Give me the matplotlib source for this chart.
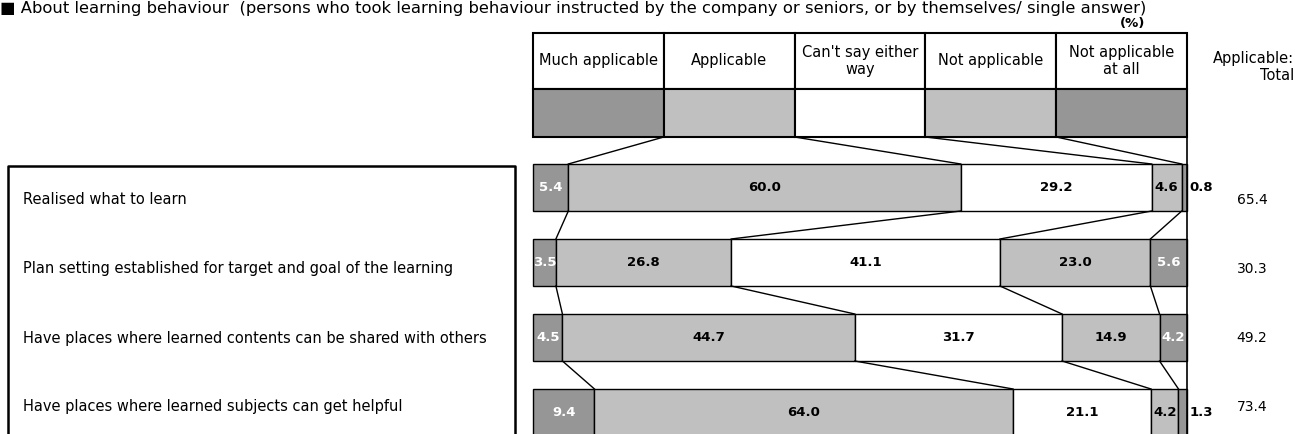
import numpy as np
import matplotlib
matplotlib.use('Agg')
import matplotlib.pyplot as plt
from matplotlib.patches import Rectangle

plt.rcParams['font.family'] = ['DejaVu Sans']

# data (%)
items = ['Realised what to learn',
         'Plan setting established for target and goal of the learning',
         'Have places where learned contents can be shared with others',
         'Have places where learned subjects can get helpful']
categories = ['Much applicable', 'Applicable', "Can't say either\nway",
              'Not applicable', 'Not applicable\nat all']
much_applicable = [5.4, 3.5, 4.5, 9.4]
applicable = [60.0, 26.8, 44.7, 64.0]
cant_say = [29.2, 41.1, 31.7, 21.1]
not_applicable = [4.6, 23.0, 14.9, 4.2]
not_at_all = [0.8, 5.6, 4.2, 1.3]
applicable_total = [65.4, 30.3, 49.2, 73.4]

series = [much_applicable, applicable, cant_say, not_applicable, not_at_all]
colors = ['#969696', '#c0c0c0', '#ffffff', '#c0c0c0', '#969696']
text_colors = ['white', 'black', 'black', 'black', 'white']

fig = plt.figure(figsize=(12.95, 4.34), dpi=100)
W, H = 1295, 434
X0, X1 = 533, 1187
ax = fig.add_axes([X0 / W, 0, (X1 - X0) / W, 1])
ax.set_xlim(0, 100)
ax.set_ylim(-2.5 + H / 75.0, -2.5)
ax.axis('off')


def ypx(p):
    return -2.5 + p / 75.0


def xpx(p):
    return (p - X0) * 100.0 / (X1 - X0)


# title
fig.text(0.0, 1 - 1 / H, '■ About learning behaviour  (persons who took learning behaviour '
         'instructed by the company or seniors, or by themselves/ single answer)',
         fontsize=11.8, va='top', ha='left')
fig.text(1133 / W, 1 - 23 / H, '(%)', fontsize=9.5, ha='center', va='center', fontweight='bold')

# header table
ncat = len(categories)
cw = 100.0 / ncat
for j, cat in enumerate(categories):
    ax.add_patch(Rectangle((j * cw, ypx(33)), cw, ypx(89) - ypx(33), facecolor='white',
                           edgecolor='black', lw=1.5, clip_on=False))
    ax.add_patch(Rectangle((j * cw, ypx(89)), cw, ypx(137) - ypx(89), facecolor=colors[j],
                           edgecolor='black', lw=1.5, clip_on=False))
    ax.text(j * cw + cw / 2, ypx(61), cat, ha='center', va='center', fontsize=10.5,
            linespacing=1.1)
ax.text(xpx(1294), ypx(67), 'Applicable:\nTotal', ha='right', va='center', fontsize=10.5,
        linespacing=1.15, clip_on=False)

# 100% line
ax.plot([100, 100], [ypx(33), ypx(H)], color='black', lw=1.2, clip_on=False)

# bars
y = np.arange(len(items))
h = 47 / 75.0
data = np.array(series)
cum = np.vstack([np.zeros(len(items)), np.cumsum(data, axis=0)])
for j in range(ncat):
    ax.barh(y, data[j], left=cum[j], height=h, color=colors[j], edgecolor='black',
            lw=1.0, clip_on=False)
    for i in range(len(items)):
        v = data[j][i]
        if v < 2:
            ax.text(100.4, y[i], f'{v:.1f}', ha='left', va='center', fontsize=9.5,
                    fontweight='bold', color='black', clip_on=False)
        else:
            ax.text(cum[j][i] + v / 2, y[i], f'{v:.1f}', ha='center', va='center',
                    fontsize=9.5, fontweight='bold', color=text_colors[j])

# series lines from legend swatches to the first bar, then between bars
for k in range(1, ncat):
    ax.plot([k * cw, cum[k][0]], [ypx(137), y[0] - h / 2], color='black', lw=1.0)
    for i in range(len(items) - 1):
        ax.plot([cum[k][i], cum[k][i + 1]], [y[i] + h / 2, y[i + 1] - h / 2],
                color='black', lw=1.0)

# item labels and totals
for i, (lab, tot) in enumerate(zip(items, applicable_total)):
    ty = ypx(200 + 69 * i)
    ax.text(xpx(23), ty, lab, ha='left', va='center', fontsize=10.5, clip_on=False)
    ax.text(xpx(1252), ty, f'{tot:.1f}', ha='center', va='center', fontsize=10,
            clip_on=False)

# label box
bx0, bx1, by0 = xpx(8), xpx(515), ypx(166)
ax.plot([bx0, bx0, bx1, bx1], [ypx(H + 5), by0, by0, ypx(H + 5)], color='black', lw=1.8,
        clip_on=False)

fig.savefig('out.png', dpi=100)
